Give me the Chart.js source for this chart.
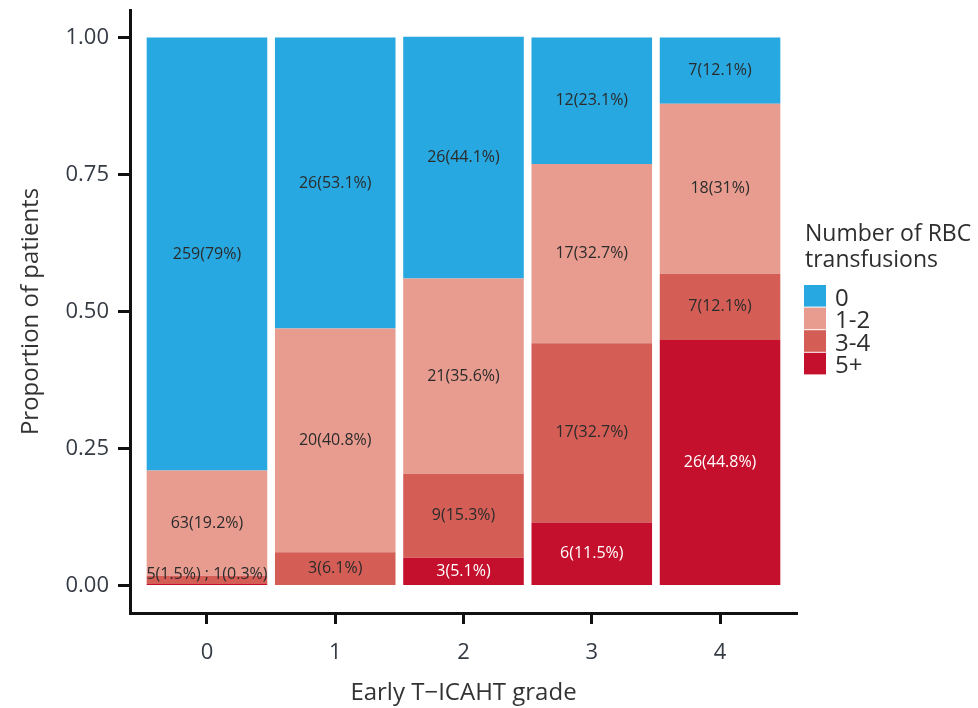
<!DOCTYPE html>
<html>
<head>
<meta charset="utf-8">
<script src="https://cdn.jsdelivr.net/npm/chart.js@4/dist/chart.umd.min.js"></script>
<style>
  html, body { margin: 0; padding: 0; background: #ffffff; }
  #wrap { width: 978px; height: 708px; }
</style>
</head>
<body>
<div id="wrap"><canvas id="c" width="978" height="708"></canvas></div>
<script>
// Early T-ICAHT grade on the x axis
const grades = ['0', '1', '2', '3', '4'];

// Number of RBC transfusions: patient counts and share of each grade (%)
const groupLabels = ['0', '1-2', '3-4', '5+'];
const counts0  = [259, 26, 26, 12, 7];
const pct0     = [79, 53.1, 44.1, 23.1, 12.1];
const counts12 = [63, 20, 21, 17, 18];
const pct12    = [19.2, 40.8, 35.6, 32.7, 31];
const counts34 = [5, 3, 9, 17, 7];
const pct34    = [1.5, 6.1, 15.3, 32.7, 12.1];
const counts5  = [1, 0, 3, 6, 26];
const pct5     = [0.3, 0, 5.1, 11.5, 44.8];

const yTicks = [0, 0.25, 0.5, 0.75, 1.0];

const colors = {
  '0':   '#28a8e0',
  '1-2': '#e89c90',
  '3-4': '#d45e56',
  '5+':  '#c4102d'
};
const inkColor = '#2b2b2b';
const axisInk = '#111111';
const tickInk = '#353b44';
const FONT = "'Open Sans', 'DejaVu Sans', sans-serif";

// stacked bottom-up: 5+, 3-4, 1-2, 0
const groups = [
  { label: '5+',  counts: counts5,  pct: pct5,  text: '#ffffff' },
  { label: '3-4', counts: counts34, pct: pct34, text: inkColor },
  { label: '1-2', counts: counts12, pct: pct12, text: inkColor },
  { label: '0',   counts: counts0,  pct: pct0,  text: inkColor }
];

const datasets = groups.map(g => ({
  label: g.label,
  data: grades.map((_, i) => ({ x: i, y: g.pct[i] / 100 })),
  backgroundColor: colors[g.label],
  borderWidth: 0,
  barPercentage: 0.94,
  categoryPercentage: 1.0
}));

// writes "n(p%)" inside each segment; thin segments share one line
const segmentLabels = {
  id: 'segmentLabels',
  afterDatasetsDraw(chart) {
    const ctx = chart.ctx;
    ctx.save();
    ctx.font = '16px ' + FONT;
    ctx.textAlign = 'center';
    ctx.textBaseline = 'middle';
    grades.forEach((_, i) => {
      const thin = [];
      let baseY = null;
      groups.forEach((g, d) => {
        const n = g.counts[i];
        if (!n) return;
        const bar = chart.getDatasetMeta(d).data[i];
        const h = Math.abs(bar.base - bar.y);
        const text = n + '(' + g.pct[i] + '%)';
        if (baseY === null) baseY = bar.base;
        if (h < 18) {
          thin.push(text);
        } else {
          ctx.fillStyle = g.text;
          ctx.fillText(text, bar.x, (bar.y + bar.base) / 2);
        }
      });
      if (thin.length) {
        const bar = chart.getDatasetMeta(0).data[i];
        ctx.fillStyle = inkColor;
        ctx.fillText(thin.reverse().join(' ; '), bar.x, baseY - 11);
      }
    });
    ctx.restore();
  }
};

// legend block on the right, listed top-down 0 .. 5+
const sideLegend = {
  id: 'sideLegend',
  afterDraw(chart) {
    const ctx = chart.ctx;
    ctx.save();
    ctx.fillStyle = '#2e2e2e';
    ctx.font = '23px ' + FONT;
    ctx.textAlign = 'left';
    ctx.textBaseline = 'alphabetic';
    ctx.fillText('Number of RBC', 805, 241);
    ctx.fillText('transfusions', 805, 267);
    const x0 = 804, top = 285, step = 22.6, boxW = 22, boxH = 21.6;
    groupLabels.forEach((lab, k) => {
      const y = top + k * step;
      ctx.fillStyle = colors[lab];
      ctx.fillRect(x0, y, boxW, boxH);
      ctx.fillStyle = '#2e2e2e';
      ctx.font = '24px ' + FONT;
      ctx.fillText(lab, 835, y + boxH - 1);
    });
    ctx.restore();
  }
};

new Chart(document.getElementById('c'), {
  type: 'bar',
  data: { datasets },
  plugins: [segmentLabels, sideLegend],
  options: {
    responsive: false,
    animation: false,
    layout: { padding: { top: 10, right: 181, left: 0, bottom: 0 } },
    plugins: {
      legend: { display: false },
      tooltip: { enabled: false }
    },
    scales: {
      x: {
        type: 'linear',
        stacked: true,
        min: -0.6,
        max: 4.6,
        offset: false,
        afterBuildTicks: s => { s.ticks = grades.map((_, i) => ({ value: i })); },
        afterFit: s => { s.height = 95; s.paddingLeft = 0; s.paddingRight = 0; },
        ticks: {
          callback: v => grades[v],
          color: tickInk,
          font: { family: FONT, size: 22 },
          padding: 16,
          maxRotation: 0
        },
        grid: {
          offset: false,
          drawOnChartArea: false,
          drawTicks: true,
          tickLength: 11,
          tickWidth: 3,
          tickColor: axisInk
        },
        border: { display: true, color: axisInk, width: 3 },
        title: {
          display: true,
          text: 'Early T\u2212ICAHT grade',
          color: '#333333',
          font: { family: FONT, size: 24 },
          padding: { top: 0, bottom: 0 }
        }
      },
      y: {
        stacked: true,
        min: -0.05,
        max: 1.05,
        afterBuildTicks: s => { s.ticks = yTicks.map(v => ({ value: v })); },
        afterFit: s => { s.width = 130; s.paddingTop = 0; s.paddingBottom = 0; },
        ticks: {
          callback: v => v.toFixed(2),
          color: tickInk,
          font: { family: FONT, size: 22 },
          padding: 9
        },
        grid: {
          drawOnChartArea: false,
          drawTicks: true,
          tickLength: 12,
          tickWidth: 3,
          tickColor: axisInk
        },
        border: { display: true, color: axisInk, width: 3 },
        title: {
          display: true,
          text: 'Proportion of patients',
          color: '#333333',
          font: { family: FONT, size: 24 },
          padding: { top: 17, bottom: 0 }
        }
      }
    }
  }
});
</script>
</body>
</html>
